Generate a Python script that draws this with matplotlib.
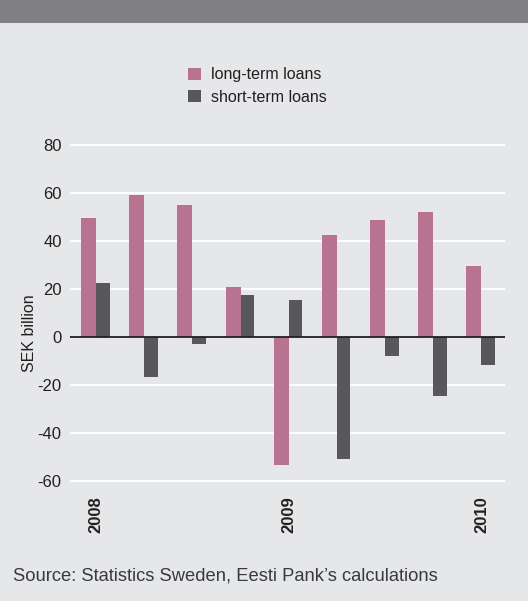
import matplotlib
matplotlib.use("Agg")
import matplotlib.pyplot as plt
import numpy as np
from matplotlib.patches import Rectangle

plt.rcParams['font.family'] = ['Liberation Sans', 'DejaVu Sans']

quarters = ["2008 Q1", "2008 Q2", "2008 Q3", "2008 Q4", "2009 Q1",
            "2009 Q2", "2009 Q3", "2009 Q4", "2010 Q1"]
long_term = [49.5, 59.2, 55.0, 20.8, -53.3, 42.5, 48.7, 52.1, 29.6]
short_term = [22.5, -16.5, -2.8, 17.5, 15.4, -50.8, -7.9, -24.4, -11.7]
year_ticks = [0, 4, 8]
year_labels = ["2008", "2009", "2010"]
y_ticks = [-60, -40, -20, 0, 20, 40, 60, 80]

PINK = "#b87390"
DARK = "#58585a"
BG = "#e6e7e9"

W, H = 528, 601
fig = plt.figure(figsize=(W / 100, H / 100), dpi=100, facecolor=BG)

# header band
fig.patches.append(Rectangle((0, 1 - 23 / H), 1, 23 / H, transform=fig.transFigure,
                             facecolor="#808083", edgecolor="none", zorder=0))

ax_left, ax_right = 70 / W, 505 / W
ymin, ymax = -61, 81
px_per_unit = 2.4
top_px = 337 - ymax * px_per_unit
bot_px = 337 - ymin * px_per_unit
ax = fig.add_axes([ax_left, 1 - bot_px / H, ax_right - ax_left, (bot_px - top_px) / H])
ax.set_facecolor(BG)
ax.set_ylim(ymin, ymax)
ax.set_xlim(-0.54, 8.49)

x = np.arange(len(quarters))
ax.bar(x - 0.155, long_term, width=0.31, color=PINK, zorder=3, label="long-term loans")
ax.bar(x + 0.14, short_term, width=0.28, color=DARK, zorder=3, label="short-term loans")

for yv in y_ticks:
    if yv != 0:
        ax.axhline(yv, color="white", lw=1.4, zorder=1)
ax.axhline(0, color="#231f20", lw=1.3, zorder=4)

for s in ax.spines.values():
    s.set_visible(False)

ax.set_yticks(y_ticks)
ax.set_yticklabels([str(v) for v in y_ticks], fontsize=12, color="#231f20")
ax.tick_params(axis="y", length=0, pad=6)
ax.set_xticks(year_ticks)
ax.set_xticklabels(year_labels, rotation=90, fontsize=12, fontweight="bold",
                   color="#231f20")
ax.tick_params(axis="x", length=0, pad=9)

ax.set_ylabel("SEK billion", fontsize=11.5, color="#231f20")
ax.yaxis.set_label_coords(-0.075, 0.44)

leg = fig.legend(loc="upper left", bbox_to_anchor=(174 / W, 1 - 53 / H), frameon=False,
                 fontsize=11.5, handlelength=0.8, handleheight=0.8, handletextpad=0.6,
                 labelspacing=0.45, labelcolor="#231f20")

fig.text(13 / W, 1 - 576 / H, "Source: Statistics Sweden, Eesti Pank\u2019s calculations",
         fontsize=13.2, color="#3a3a3c", va="center", ha="left")

fig.savefig("out.png", dpi=100, facecolor=BG)
